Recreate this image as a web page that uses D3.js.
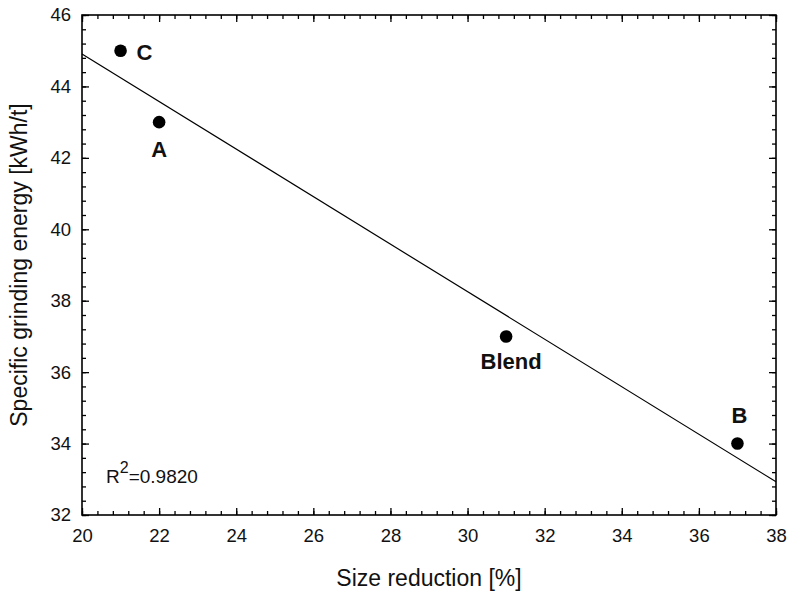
<!DOCTYPE html>
<html>
<head>
<meta charset="utf-8">
<script src="https://cdn.jsdelivr.net/npm/d3@7"></script>
<style>
  html, body { margin: 0; padding: 0; background: #fff; }
  svg { display: block; font-family: "Liberation Sans", Arial, sans-serif; }
</style>
</head>
<body>
<svg id="chart" width="790" height="596"></svg>
<script>
// ---- data ----
const samples = ["C", "A", "Blend", "B"];
const sizeReduction = [21, 22, 31, 37];          // %
const grindingEnergy = [45, 43, 37, 34];         // kWh/t
const xTickValues = [20, 22, 24, 26, 28, 30, 32, 34, 36, 38];
const yTickValues = [32, 34, 36, 38, 40, 42, 44, 46];
const xDomain = [20, 38];
const yDomain = [32, 46];
const rSquaredLabel = "0.9820";

// ---- layout ----
const mLeft = 82, mRight = 776, mTop = 15, mBottom = 515;
const svg = d3.select("#chart");
const x = d3.scaleLinear().domain(xDomain).range([mLeft, mRight]);
const y = d3.scaleLinear().domain(yDomain).range([mBottom, mTop]);

const xMinor = d3.range(0, 46).map(i => 20 + i * 0.4).filter(v => v <= 38.0001);
const yMinor = d3.range(0, 36).map(i => 32 + i * 0.4).filter(v => v <= 46.0001);

function styleAxis(g) {
  g.select(".domain").remove();
  g.selectAll("line").attr("stroke", "#000").attr("stroke-width", 1.3);
  g.selectAll("text").attr("fill", "#111").style("font-size", "18.5px")
    .style("font-family", "'Liberation Sans', Arial, sans-serif");
}

// minor ticks
svg.append("g").attr("transform", `translate(0,${mBottom})`)
  .call(d3.axisBottom(x).tickValues(xMinor).tickSize(-4).tickFormat("")).call(styleAxis);
svg.append("g").attr("transform", `translate(0,${mTop})`)
  .call(d3.axisTop(x).tickValues(xMinor).tickSize(-4).tickFormat("")).call(styleAxis);
svg.append("g").attr("transform", `translate(${mLeft},0)`)
  .call(d3.axisLeft(y).tickValues(yMinor).tickSize(-4).tickFormat("")).call(styleAxis);
svg.append("g").attr("transform", `translate(${mRight},0)`)
  .call(d3.axisRight(y).tickValues(yMinor).tickSize(-4).tickFormat("")).call(styleAxis);

// major ticks
svg.append("g").attr("transform", `translate(0,${mBottom})`)
  .call(d3.axisBottom(x).tickValues(xTickValues).tickSize(-7).tickPadding(14).tickFormat(d3.format("d"))).call(styleAxis);
svg.append("g").attr("transform", `translate(0,${mTop})`)
  .call(d3.axisTop(x).tickValues(xTickValues).tickSize(-7).tickFormat("")).call(styleAxis);
svg.append("g").attr("transform", `translate(${mLeft},0)`)
  .call(d3.axisLeft(y).tickValues(yTickValues).tickSize(-7).tickPadding(11).tickFormat(d3.format("d"))).call(styleAxis);
svg.append("g").attr("transform", `translate(${mRight},0)`)
  .call(d3.axisRight(y).tickValues(yTickValues).tickSize(-7).tickFormat("")).call(styleAxis);

// frame
svg.append("rect")
  .attr("x", mLeft).attr("y", mTop)
  .attr("width", mRight - mLeft).attr("height", mBottom - mTop)
  .attr("fill", "none").attr("stroke", "#000").attr("stroke-width", 1.6);

// least-squares regression line from the data
const mx = d3.mean(sizeReduction), my = d3.mean(grindingEnergy);
const sxy = d3.sum(sizeReduction.map((v, i) => (v - mx) * (grindingEnergy[i] - my)));
const sxx = d3.sum(sizeReduction.map(v => (v - mx) ** 2));
const slope = sxy / sxx, intercept = my - slope * mx;
svg.append("line")
  .attr("x1", x(xDomain[0])).attr("y1", y(slope * xDomain[0] + intercept))
  .attr("x2", x(xDomain[1])).attr("y2", y(slope * xDomain[1] + intercept))
  .attr("stroke", "#000").attr("stroke-width", 1.2);

// points
const pts = samples.map((s, i) => ({ s, x: sizeReduction[i], y: grindingEnergy[i] }));
svg.append("g").selectAll("circle")
  .data(pts)
  .join("circle")
  .attr("cx", d => x(d.x)).attr("cy", d => y(d.y)).attr("r", 6.3).attr("fill", "#000");

// labels
const labelOffsets = {
  C: { dx: 16, dy: 9.5, anchor: "start" },
  A: { dx: 0, dy: 35, anchor: "middle" },
  Blend: { dx: 5, dy: 32.5, anchor: "middle" },
  B: { dx: 2, dy: -21, anchor: "middle" }
};
svg.append("g").selectAll("text")
  .data(pts)
  .join("text")
  .attr("x", d => x(d.x) + labelOffsets[d.s].dx)
  .attr("y", d => y(d.y) + labelOffsets[d.s].dy)
  .attr("text-anchor", d => labelOffsets[d.s].anchor)
  .style("font-size", "22px").style("font-weight", "bold").attr("fill", "#111")
  .text(d => d.s);

// R^2
const r2 = svg.append("text").attr("x", 106).attr("y", 483)
  .style("font-size", "19px").attr("fill", "#111");
r2.append("tspan").text("R");
r2.append("tspan").attr("dy", -10).style("font-size", "16px").text("2");
r2.append("tspan").attr("dy", 10).text("=" + rSquaredLabel);

// axis titles
svg.append("text")
  .attr("x", (mLeft + mRight) / 2).attr("y", 586)
  .attr("text-anchor", "middle").style("font-size", "23px").attr("fill", "#111")
  .text("Size reduction [%]");
svg.append("text")
  .attr("transform", `translate(27,${(mTop + mBottom) / 2}) rotate(-90)`)
  .attr("text-anchor", "middle").style("font-size", "23px").attr("fill", "#111")
  .text("Specific grinding energy [kWh/t]");
</script>
</body>
</html>
